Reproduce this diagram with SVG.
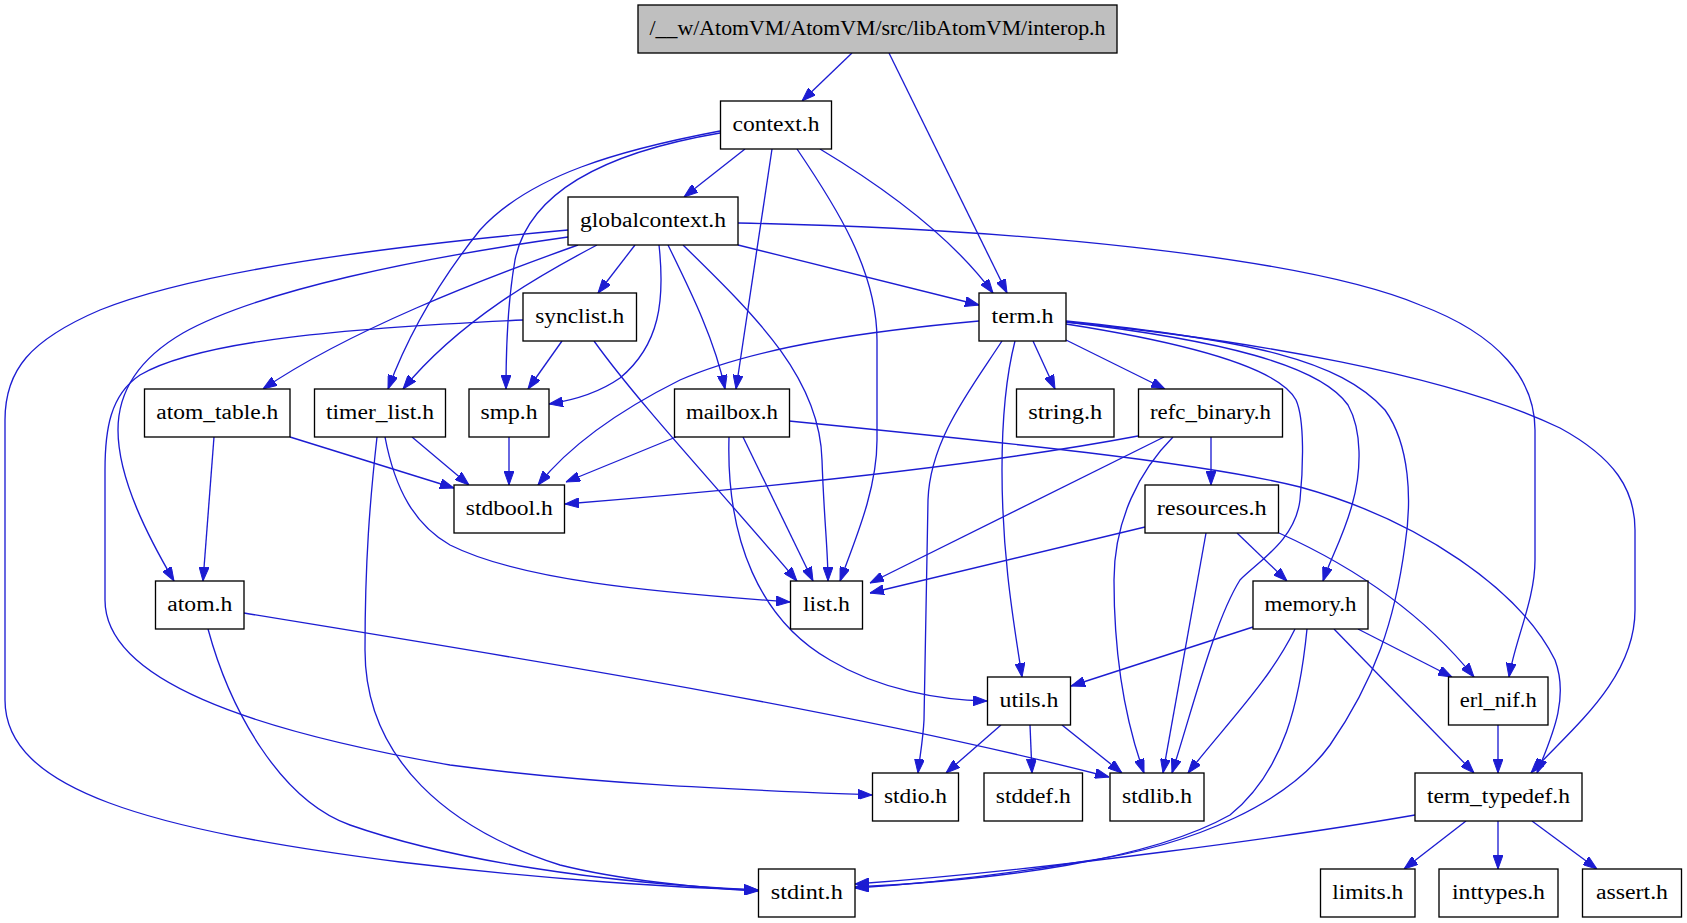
<svg xmlns="http://www.w3.org/2000/svg" width="1687" height="923" viewBox="0 0 1687 923">
<defs>
<style>
.n rect{fill:#ffffff;stroke:#000000;stroke-width:1.33}
.n.root rect{fill:#bfbfbf}
.n text{font-family:"Liberation Serif","Times New Roman",serif;font-size:20px;text-anchor:middle;fill:#000000}
.e path{fill:none;stroke:#1c1cd2;stroke-width:1.33;marker-end:url(#arr)}
</style>
<marker id="arr" viewBox="0 0 14 10" refX="14" refY="5" markerWidth="14" markerHeight="10" markerUnits="userSpaceOnUse" orient="auto">
<path d="M0,0 L14,5 L0,10 z" fill="#1c1cd2" stroke="#1c1cd2" stroke-width="1"/>
</marker>
</defs>
<rect width="1687" height="923" fill="#ffffff"/>
<g id="connectors" class="e">
<path d="M852,53 L802,101"/>
<path d="M889,53 L1007,293"/>
<path d="M745,149 L684,197"/>
<path d="M772,149 L736,389"/>
<path d="M797,149 C835,205 877,270 877,340 L877,440 C877,490 855,540 840,581"/>
<path d="M820,149 C880,185 950,235 993,293"/>
<path d="M720,131 C620,150 530,175 480,230 C440,280 410,330 388,389"/>
<path d="M720,133 C620,150 530,185 515,260 C508,300 506,340 506,389"/>
<path d="M635,245 L598,293"/>
<path d="M659,245 C665,300 660,345 620,378 C600,392 575,400 549,404"/>
<path d="M668,245 C690,290 715,340 725,389"/>
<path d="M683,245 C760,320 820,380 822,460 C824,520 828,550 828,581"/>
<path d="M738,245 L979,305"/>
<path d="M738,223 C1000,228 1300,255 1420,305 C1500,335 1535,380 1535,430 L1535,560 C1535,600 1515,640 1509,677"/>
<path d="M578,245 C480,280 350,330 263,389"/>
<path d="M597,245 C540,275 460,320 403,389"/>
<path d="M568,237 C420,258 260,290 183,333 C140,358 118,390 118,430 C118,480 150,540 174,581"/>
<path d="M568,230 C400,245 200,270 100,310 C30,340 5,370 5,420 L5,700 C5,790 150,830 400,862 C550,880 680,888 758,890"/>
<path d="M562,341 L528,389"/>
<path d="M594,341 C640,405 720,490 797,581"/>
<path d="M523,320 C350,328 200,340 140,375 C110,395 105,430 105,470 L105,600 C105,680 250,730 450,765 C600,785 750,790 872,795"/>
<path d="M1033,341 L1055,389"/>
<path d="M1066,340 L1165,389"/>
<path d="M979,321 C880,330 760,345 680,380 C620,410 570,445 538,485"/>
<path d="M1002,341 C970,390 930,440 928,500 L924,720 C923,740 920,755 918,773"/>
<path d="M1015,341 C1005,380 1002,420 1002,470 C1002,560 1015,630 1022,677"/>
<path d="M1066,324 C1200,345 1280,370 1296,400 C1305,420 1303,470 1300,500 C1295,540 1260,560 1240,580 C1215,620 1195,700 1172,773"/>
<path d="M1066,322 C1220,340 1320,365 1348,405 C1362,430 1362,470 1352,505 C1344,535 1330,560 1323,581"/>
<path d="M1066,321 C1250,340 1340,360 1385,410 C1410,445 1412,500 1405,545 C1395,620 1375,680 1330,745 C1290,800 1200,845 1080,862 C1000,875 920,884 855,888"/>
<path d="M1066,322 C1250,340 1450,375 1560,428 C1615,458 1635,490 1635,530 L1635,610 C1635,680 1570,730 1531,773"/>
<path d="M1211,437 L1211,485"/>
<path d="M1138,436 C1000,462 800,485 565,504"/>
<path d="M1164,437 L870,583"/>
<path d="M1173,437 C1140,470 1114,520 1114,580 C1114,660 1125,720 1144,773"/>
<path d="M1145,527 L870,593"/>
<path d="M1237,533 L1287,581"/>
<path d="M1279,533 C1350,565 1420,610 1474,677"/>
<path d="M1206,533 L1163,773"/>
<path d="M676,437 L566,482"/>
<path d="M743,437 L813,581"/>
<path d="M729,437 C726,540 760,620 830,660 C880,690 940,700 987,701"/>
<path d="M789,421 C1000,442 1200,462 1300,487 C1420,520 1520,590 1555,660 C1570,700 1550,740 1537,773"/>
<path d="M509,437 L509,485"/>
<path d="M412,437 L469,485"/>
<path d="M385,437 C395,490 415,525 450,545 C520,580 650,592 790,602"/>
<path d="M377,437 C370,500 365,560 365,650 C365,760 450,830 560,865 C620,880 700,888 758,891"/>
<path d="M214,437 L203,581"/>
<path d="M290,437 L454,488"/>
<path d="M244,613 C500,655 850,710 1109,777"/>
<path d="M208,629 C230,710 280,800 350,825 C450,860 600,883 758,890"/>
<path d="M1253,627 L1071,686"/>
<path d="M1295,629 C1270,680 1230,720 1188,773"/>
<path d="M1307,629 C1300,700 1285,770 1230,815 C1150,860 1000,880 855,887"/>
<path d="M1358,629 L1452,677"/>
<path d="M1334,629 L1474,773"/>
<path d="M1498,725 L1498,773"/>
<path d="M1466,821 L1404,869"/>
<path d="M1498,821 L1498,869"/>
<path d="M1532,821 L1597,869"/>
<path d="M1415,815 C1300,835 1050,870 855,884"/>
<path d="M1001,725 L946,773"/>
<path d="M1030,725 L1032,773"/>
<path d="M1062,725 L1122,773"/>
</g>
<g id="interop" class="n root"><rect x="638" y="5" width="479" height="48"/><text x="877.5" y="34.5" textLength="456" lengthAdjust="spacingAndGlyphs">/__w/AtomVM/AtomVM/src/libAtomVM/interop.h</text></g>
<g id="context" class="n"><rect x="720.5" y="101" width="111" height="48"/><text x="776" y="130.5" textLength="87" lengthAdjust="spacingAndGlyphs">context.h</text></g>
<g id="globalcontext" class="n"><rect x="568" y="197" width="170" height="48"/><text x="653" y="226.5" textLength="146" lengthAdjust="spacingAndGlyphs">globalcontext.h</text></g>
<g id="synclist" class="n"><rect x="523" y="293" width="113.5" height="48"/><text x="579.75" y="322.5" textLength="89" lengthAdjust="spacingAndGlyphs">synclist.h</text></g>
<g id="term" class="n"><rect x="979" y="293" width="87" height="48"/><text x="1022.5" y="322.5" textLength="62" lengthAdjust="spacingAndGlyphs">term.h</text></g>
<g id="atom_table" class="n"><rect x="144.5" y="389" width="145.5" height="48"/><text x="217.25" y="418.5" textLength="122" lengthAdjust="spacingAndGlyphs">atom_table.h</text></g>
<g id="timer_list" class="n"><rect x="314.5" y="389" width="131" height="48"/><text x="380" y="418.5" textLength="108" lengthAdjust="spacingAndGlyphs">timer_list.h</text></g>
<g id="smp" class="n"><rect x="469" y="389" width="80" height="48"/><text x="509" y="418.5" textLength="57" lengthAdjust="spacingAndGlyphs">smp.h</text></g>
<g id="mailbox" class="n"><rect x="674.5" y="389" width="115" height="48"/><text x="732" y="418.5" textLength="92" lengthAdjust="spacingAndGlyphs">mailbox.h</text></g>
<g id="string" class="n"><rect x="1016.5" y="389" width="97.5" height="48"/><text x="1065.25" y="418.5" textLength="74" lengthAdjust="spacingAndGlyphs">string.h</text></g>
<g id="refc_binary" class="n"><rect x="1138.5" y="389" width="144" height="48"/><text x="1210.5" y="418.5" textLength="121" lengthAdjust="spacingAndGlyphs">refc_binary.h</text></g>
<g id="stdbool" class="n"><rect x="454" y="485" width="110.5" height="48"/><text x="509.25" y="514.5" textLength="87" lengthAdjust="spacingAndGlyphs">stdbool.h</text></g>
<g id="resources" class="n"><rect x="1145" y="485" width="133.5" height="48"/><text x="1211.75" y="514.5" textLength="110" lengthAdjust="spacingAndGlyphs">resources.h</text></g>
<g id="atom" class="n"><rect x="155.5" y="581" width="88.5" height="48"/><text x="199.75" y="610.5" textLength="65" lengthAdjust="spacingAndGlyphs">atom.h</text></g>
<g id="list" class="n"><rect x="790.5" y="581" width="72" height="48"/><text x="826.5" y="610.5" textLength="47" lengthAdjust="spacingAndGlyphs">list.h</text></g>
<g id="memory" class="n"><rect x="1253" y="581" width="115" height="48"/><text x="1310.5" y="610.5" textLength="92" lengthAdjust="spacingAndGlyphs">memory.h</text></g>
<g id="utils" class="n"><rect x="987.5" y="677" width="83" height="48"/><text x="1029" y="706.5" textLength="59" lengthAdjust="spacingAndGlyphs">utils.h</text></g>
<g id="erl_nif" class="n"><rect x="1448.5" y="677" width="99.5" height="48"/><text x="1498.25" y="706.5" textLength="77" lengthAdjust="spacingAndGlyphs">erl_nif.h</text></g>
<g id="stdio" class="n"><rect x="872.5" y="773" width="86" height="48"/><text x="915.5" y="802.5" textLength="63" lengthAdjust="spacingAndGlyphs">stdio.h</text></g>
<g id="stddef" class="n"><rect x="984" y="773" width="98.5" height="48"/><text x="1033.25" y="802.5" textLength="75" lengthAdjust="spacingAndGlyphs">stddef.h</text></g>
<g id="stdlib" class="n"><rect x="1110" y="773" width="94" height="48"/><text x="1157" y="802.5" textLength="70" lengthAdjust="spacingAndGlyphs">stdlib.h</text></g>
<g id="term_typedef" class="n"><rect x="1415" y="773" width="167" height="48"/><text x="1498.5" y="802.5" textLength="143" lengthAdjust="spacingAndGlyphs">term_typedef.h</text></g>
<g id="stdint" class="n"><rect x="758.5" y="869" width="96.5" height="48"/><text x="806.75" y="898.5" textLength="72" lengthAdjust="spacingAndGlyphs">stdint.h</text></g>
<g id="limits" class="n"><rect x="1320.5" y="869" width="94.5" height="48"/><text x="1367.75" y="898.5" textLength="71" lengthAdjust="spacingAndGlyphs">limits.h</text></g>
<g id="inttypes" class="n"><rect x="1439" y="869" width="119" height="48"/><text x="1498.5" y="898.5" textLength="93" lengthAdjust="spacingAndGlyphs">inttypes.h</text></g>
<g id="assert" class="n"><rect x="1582.5" y="869" width="99" height="48"/><text x="1632" y="898.5" textLength="72" lengthAdjust="spacingAndGlyphs">assert.h</text></g>
</svg>
